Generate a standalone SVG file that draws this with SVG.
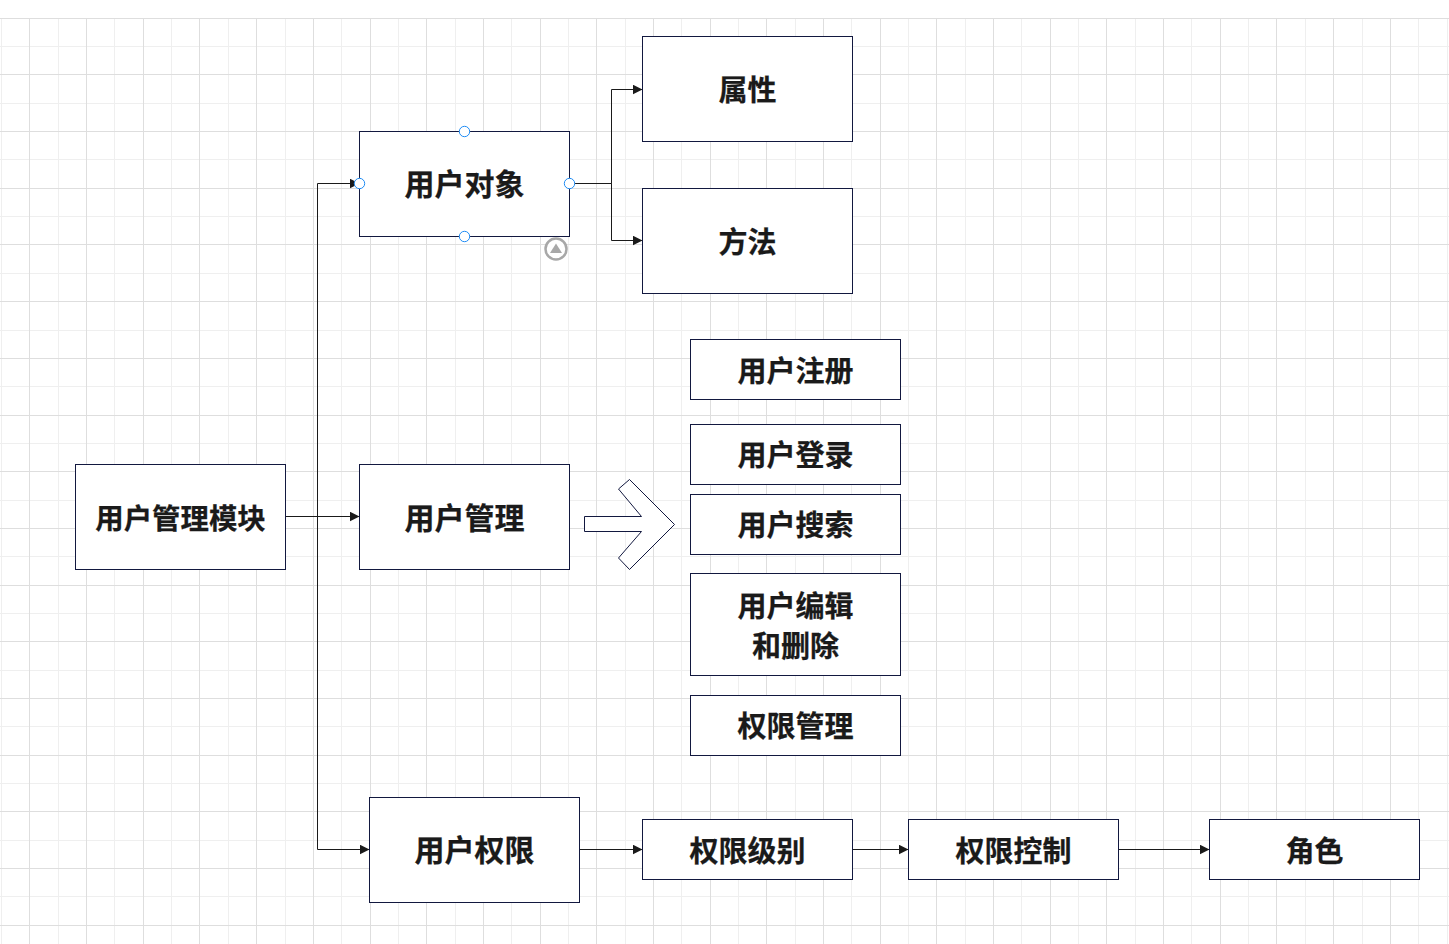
<svg xmlns="http://www.w3.org/2000/svg" width="1449" height="944" viewBox="0 0 1449 944">
<style>
.minor{stroke:#efefef;stroke-width:1;fill:none}
.major{stroke:#dedede;stroke-width:1;fill:none}
.box{fill:#fff;stroke:#12183f;stroke-width:1}
.t{font-family:"Noto Sans CJK SC","Liberation Sans",sans-serif;font-weight:700;fill:#1a1a1a;stroke:#1a1a1a;stroke-width:.25;text-anchor:middle;dominant-baseline:central}
.s28{font-size:28.4px}
.s29{font-size:29px}
.s30{font-size:30px}
.edge{fill:none;stroke:#1a1a1a;stroke-width:1}
.port{fill:#fff;stroke:#1e8cf5;stroke-width:1}
</style>
<defs>
<marker id="head" markerUnits="userSpaceOnUse" markerWidth="10" markerHeight="10" refX="10" refY="5" orient="auto">
<path d="M0 0L10 5L0 10Z" fill="#1a1a1a"/>
</marker>
</defs>
<rect width="1449" height="944" fill="#fff"/>
<!-- background grid -->
<g id="grid">
<path class="minor" d="M1.500 18V944M58.500 18V944M114.500 18V944M171.500 18V944M228.500 18V944M285.500 18V944M341.500 18V944M398.500 18V944M455.500 18V944M511.500 18V944M568.500 18V944M625.500 18V944M681.500 18V944M738.500 18V944M795.500 18V944M851.500 18V944M908.500 18V944M965.500 18V944M1021.500 18V944M1078.500 18V944M1135.500 18V944M1191.500 18V944M1248.500 18V944M1305.500 18V944M1362.500 18V944M1418.500 18V944M1447.500 18V944"/>
<path class="minor" d="M0 46.500H1449M0 103.500H1449M0 159.500H1449M0 216.500H1449M0 273.500H1449M0 330.500H1449M0 386.500H1449M0 443.500H1449M0 500.500H1449M0 556.500H1449M0 613.500H1449M0 670.500H1449M0 726.500H1449M0 783.500H1449M0 840.500H1449M0 896.500H1449"/>
<path class="major" d="M29.500 18V944M86.500 18V944M143.500 18V944M199.500 18V944M256.500 18V944M313.500 18V944M370.500 18V944M426.500 18V944M483.500 18V944M540.500 18V944M596.500 18V944M653.500 18V944M710.500 18V944M766.500 18V944M823.500 18V944M880.500 18V944M936.500 18V944M993.500 18V944M1050.500 18V944M1106.500 18V944M1163.500 18V944M1220.500 18V944M1276.500 18V944M1333.500 18V944M1390.500 18V944"/>
<path class="major" d="M0 18.500H1449M0 74.500H1449M0 131.500H1449M0 188.500H1449M0 244.500H1449M0 301.500H1449M0 358.500H1449M0 415.500H1449M0 471.500H1449M0 528.500H1449M0 585.500H1449M0 641.500H1449M0 698.500H1449M0 755.500H1449M0 811.500H1449M0 868.500H1449M0 925.500H1449"/>
</g>
<!-- connectors -->
<g id="connectors">
<path class="edge" marker-end="url(#head)" d="M285.500 516.500H317.500V183.500H359.500"/>
<path class="edge" marker-end="url(#head)" d="M285.500 516.500H359.500"/>
<path class="edge" marker-end="url(#head)" d="M285.500 516.500H317.500V849.500H369.500"/>
<path class="edge" marker-end="url(#head)" d="M569.500 183.500H611.500V89.500H642.500"/>
<path class="edge" marker-end="url(#head)" d="M569.500 183.500H611.500V240.500H642.500"/>
<path class="edge" marker-end="url(#head)" d="M579.500 849.500H642.500"/>
<path class="edge" marker-end="url(#head)" d="M852.500 849.500H908.500"/>
<path class="edge" marker-end="url(#head)" d="M1118.500 849.500H1209.500"/>
</g>
<g id="node-module"><rect class="box" x="75.500" y="464.500" width="210" height="105"/><text class="t s28" x="180.500" y="516">用户管理模块</text></g>
<g id="node-user-object"><rect class="box" x="359.500" y="131.500" width="210" height="105"/><text class="t s30" x="464.500" y="182">用户对象</text></g>
<g id="node-user-manage"><rect class="box" x="359.500" y="464.500" width="210" height="105"/><text class="t s30" x="464.500" y="515.500">用户管理</text></g>
<g id="node-user-perm"><rect class="box" x="369.500" y="797.500" width="210" height="105"/><text class="t s30" x="474.500" y="848">用户权限</text></g>
<g id="node-attr"><rect class="box" x="642.500" y="36.500" width="210" height="105"/><text class="t s29" x="747.500" y="88">属性</text></g>
<g id="node-method"><rect class="box" x="642.500" y="188.500" width="210" height="105"/><text class="t s29" x="747.500" y="240">方法</text></g>
<g id="node-register"><rect class="box" x="690.500" y="339.500" width="210" height="60"/><text class="t s29" x="795.500" y="369">用户注册</text></g>
<g id="node-login"><rect class="box" x="690.500" y="424.500" width="210" height="60"/><text class="t s29" x="795.500" y="453">用户登录</text></g>
<g id="node-search"><rect class="box" x="690.500" y="494.500" width="210" height="60"/><text class="t s29" x="795.500" y="523">用户搜索</text></g>
<g id="node-edit"><rect class="box" x="690.500" y="573.500" width="210" height="102"/><text class="t s29" x="795.500" y="604">用户编辑</text><text class="t s29" x="795.500" y="643.500">和删除</text></g>
<g id="node-perm-manage"><rect class="box" x="690.500" y="695.500" width="210" height="60"/><text class="t s29" x="795.500" y="724">权限管理</text></g>
<g id="node-level"><rect class="box" x="642.500" y="819.500" width="210" height="60"/><text class="t s29" x="747.500" y="849">权限级别</text></g>
<g id="node-control"><rect class="box" x="908.500" y="819.500" width="210" height="60"/><text class="t s29" x="1013.500" y="849">权限控制</text></g>
<g id="node-role"><rect class="box" x="1209.500" y="819.500" width="210" height="60"/><text class="t s29" x="1314.500" y="849">角色</text></g>
<!-- block arrow between the management node and its feature list -->
<g id="block-arrow"><path class="box" d="M584.500 516.500H641.500L618.500 489L629.500 479.500L674.500 524.500L629.500 569.500L618.500 558L641.500 531.500H584.500Z"/></g>
<!-- selection handles on the user object node -->
<g id="handles">
<circle class="port" cx="464.500" cy="131.500" r="5.200"/>
<circle class="port" cx="464.500" cy="236.500" r="5.200"/>
<circle class="port" cx="359.500" cy="183.500" r="5.200"/>
<circle class="port" cx="569.500" cy="183.500" r="5.200"/>
<circle cx="556" cy="249" r="10.500" fill="#fff" stroke="#a8a8a8" stroke-width="2.500"/>
<path d="M550 253L556 243.500L562 253Z" fill="#a8a8a8"/>
</g>
</svg>
